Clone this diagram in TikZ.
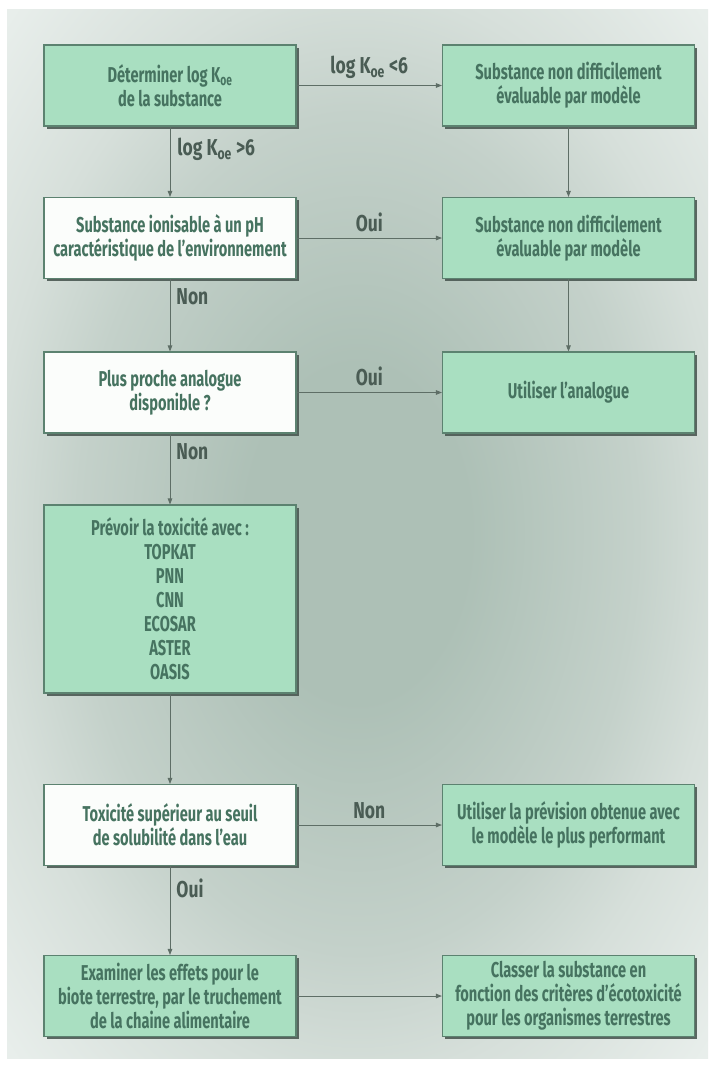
\documentclass[tikz,border=0pt]{standalone}
\usepackage{fontspec}
\setmainfont{Fira Sans}[FakeStretch=0.68]
\newfontfamily\lblfont{Fira Sans}[FakeStretch=0.76]
\usetikzlibrary{arrows.meta,shadows}
\definecolor{boxgreen}{HTML}{A9DFC1}
\definecolor{boxwhite}{HTML}{FBFDFB}
\definecolor{boxline}{HTML}{5C8270}
\definecolor{boxtext}{HTML}{467360}
\definecolor{lbltext}{HTML}{4A5C54}
\definecolor{arrowcol}{HTML}{5E6E66}
\definecolor{bgA}{HTML}{ADC0B6}
\definecolor{bgB}{HTML}{C4D1CA}
\definecolor{bgC}{HTML}{D6DFDA}
\definecolor{bgD}{HTML}{E8EEEB}
\definecolor{shadowcol}{HTML}{4B5953}
\pgfdeclareradialshading{panelshade}{\pgfpoint{0bp}{0bp}}{color(0bp)=(bgA); color(8bp)=(bgA); color(20bp)=(bgB); color(26bp)=(bgC); color(35bp)=(bgD); color(50bp)=(bgD)}
\begin{document}
\begin{tikzpicture}[x=1pt,y=-1pt,
  box/.style={draw=boxline, line width=1.1pt, minimum width=252pt, minimum height=81pt,
    inner sep=2pt, align=center, text=boxtext, font=\bfseries\fontsize{21.5}{24}\selectfont,
    drop shadow={shadow xshift=2.5pt, shadow yshift=-2.5pt, fill=shadowcol, opacity=0.9}},
  gbox/.style={box, fill=boxgreen},
  wbox/.style={box, fill=boxwhite},
  conn/.style={draw=arrowcol, line width=0.9pt, -{Triangle[length=6pt,width=4.5pt]}},
  lbl/.style={text=lbltext, font=\lblfont\bfseries\fontsize{23}{24}\selectfont, inner sep=1pt}]
\useasboundingbox (0,0) rectangle (719,1066);
\fill[white] (0,0) rectangle (719,1066);
\shade[shading=panelshade] (7,9) rectangle (708,1058);
% left column
\node[gbox] (a1) at (170,85.5) {Déterminer log K\textsubscript{oe}\\de la substance};
\node[wbox] (a2) at (170,238) {Substance ionisable à un pH\\caractéristique de l’environnement};
\node[wbox] (a3) at (170,392.5) {Plus proche analogue\\disponible ?};
\node[gbox, minimum height=188pt] (a4) at (170,599) {Prévoir la toxicité avec :\\TOPKAT\\PNN\\CNN\\ECOSAR\\ASTER\\OASIS};
\node[wbox] (a5) at (170,825) {Toxicité supérieur au seuil\\de solubilité dans l’eau};
\node[gbox] (a6) at (170,996) {Examiner les effets pour le\\biote terrestre, par le truchement\\de la chaine alimentaire};
% right column
\node[gbox] (b1) at (568.5,85.5) {Substance non difficilement\\évaluable par modèle};
\node[gbox] (b2) at (568.5,238) {Substance non difficilement\\évaluable par modèle};
\node[gbox] (b3) at (568.5,392.5) {Utiliser l’analogue};
\node[gbox] (b5) at (568.5,825) {Utiliser la prévision obtenue avec\\le modèle le plus performant};
\node[gbox] (b6) at (568.5,996) {Classer la substance en\\fonction des critères d’écotoxicité\\pour les organismes terrestres};
% connectors
\draw[conn] (a1) -- (b1) node[lbl, midway, above=5pt] {log K\textsubscript{oe} <6};
\draw[conn] (a1) -- (a2) node[lbl, pos=0.33, right=6pt] {log K\textsubscript{oe} >6};
\draw[conn] (a2) -- (b2) node[lbl, midway, above=5pt] {Oui};
\draw[conn] (a2) -- (a3) node[lbl, pos=0.25, right=5pt] {Non};
\draw[conn] (a3) -- (b3) node[lbl, midway, above=5pt] {Oui};
\draw[conn] (a3) -- (a4) node[lbl, pos=0.25, right=5pt] {Non};
\draw[conn] (a4) -- (a5);
\draw[conn] (a5) -- (b5) node[lbl, midway, above=5pt] {Non};
\draw[conn] (a5) -- (a6) node[lbl, pos=0.25, right=5pt] {Oui};
\draw[conn] (a6) -- (b6);
\draw[conn] (b1) -- (b2);
\draw[conn] (b2) -- (b3);
\end{tikzpicture}
\end{document}
